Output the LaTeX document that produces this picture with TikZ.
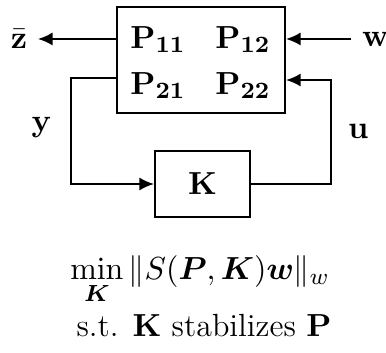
\documentclass[tikz,border=0pt]{standalone}
\usepackage{amsmath}
\usepackage{amssymb}
\usetikzlibrary{calc, arrows.meta}

\begin{document}
\begin{tikzpicture}[line width=0.7pt, >={Latex[length=5pt,width=4.5pt]},
    every node/.style={font=\fontsize{11}{13.5}\selectfont}]
  \useasboundingbox (0,0) rectangle (4.655,-4.245);
  % generalized plant and controller
  \node[draw, minimum width=2.026cm, minimum height=1.279cm] (plant) at (2.424,-0.724) {};
  \node (p11) at (1.906,-0.476) {$\mathbf{P_{11}}$};
  \node (p12) at (2.931,-0.476) {$\mathbf{P_{12}}$};
  \node (p21) at (1.906,-1.031) {$\mathbf{P_{21}}$};
  \node (p22) at (2.931,-1.031) {$\mathbf{P_{22}}$};
  \node[draw, minimum width=1.146cm, minimum height=0.796cm] (ctrl) at (2.442,-2.219) {$\mathbf{K}$};
  % signals
  \node (zbar) at (0.23,-0.47) {$\bar{\mathbf{z}}$};
  \node (win) at (4.53,-0.47) {$\mathbf{w}$};
  \node (ylab) at (0.5,-1.54) {$\mathbf{y}$};
  \node (ulab) at (4.32,-1.59) {$\mathbf{u}$};
  \coordinate (ycorner) at (0.856,-0.941);
  \coordinate (ucorner) at (3.992,-0.965);
  \draw[->] (plant.west |- zbar) -- (zbar);
  \draw[->] (win) -- (plant.east |- win);
  \draw[->] (plant.west |- ycorner) -- (ycorner) |- (ctrl.west);
  \draw[->] (ctrl.east) -| (ucorner) -- (plant.east |- ucorner);
  % problem statement
  \node (obj) at (2.412,-3.377) {$\displaystyle\min_{\boldsymbol{K}} \|S(\boldsymbol{P},\boldsymbol{K})\boldsymbol{w}\|_w$};
  \node (cons) at (2.46,-3.93) {s.t. $\mathbf{K}$ stabilizes $\mathbf{P}$};
\end{tikzpicture}
\end{document}
